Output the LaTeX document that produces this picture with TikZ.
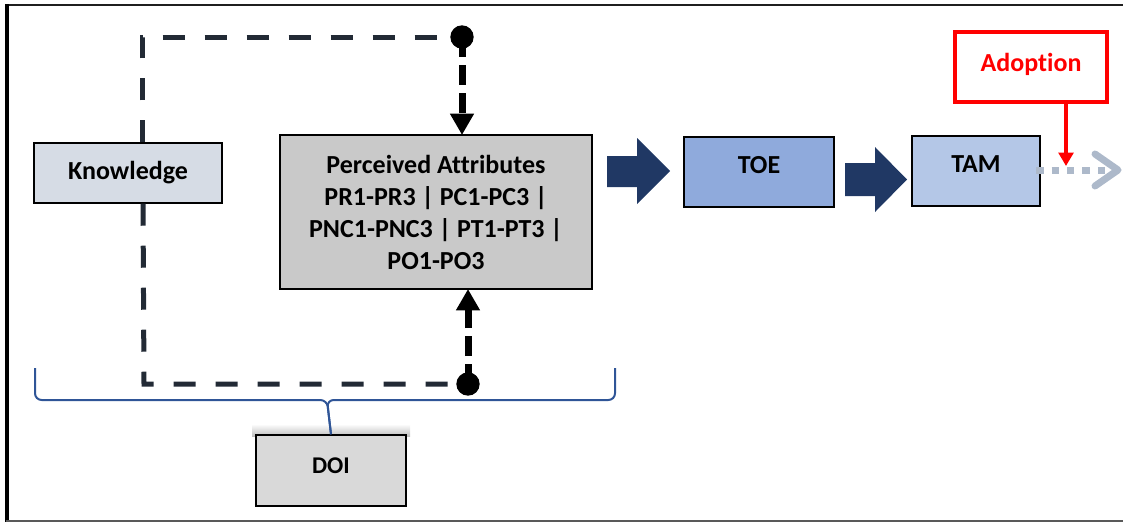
\documentclass[tikz,border=0pt]{standalone}
\usepackage{fontspec}
\setmainfont{Carlito}[Ligatures=NoCommon]
\usetikzlibrary{arrows.meta,calc}
\definecolor{knowfill}{HTML}{D6DCE5}
\definecolor{pafill}{HTML}{C9C9C9}
\definecolor{toefill}{HTML}{8FAADC}
\definecolor{tamfill}{HTML}{B4C7E7}
\definecolor{doifill}{HTML}{D9D9D9}
\definecolor{navy}{HTML}{203864}
\definecolor{loopcol}{HTML}{222A35}
\definecolor{bracecol}{HTML}{2F5597}
\definecolor{dotgray}{HTML}{ADB9CA}
\definecolor{adred}{HTML}{FF0000}
\tikzset{
  box/.style={draw=black, line width=1.1pt, inner sep=0pt, align=center,
    font=\fontsize{19.5}{24}\selectfont\bfseries},
  loopline/.style={draw=loopcol, line width=3.75pt, dash pattern=on 16.5pt off 15pt},
  thickdash/.style={draw=black, line width=5.25pt, dash pattern=on 15pt off 6pt,
    -{Triangle[width=17pt,length=16pt]}},
  dotnode/.style={circle, fill=black, inner sep=0pt, minimum size=17.5pt},
  blockarrow/.style={fill=navy},
}
\begin{document}
\begin{tikzpicture}[x=0.75pt,y=-0.75pt]
\useasboundingbox (0,0) rectangle (1123,522);
% frame
\draw[line width=2.2pt, draw=black!88] (5,5) -- (1123,5);
\draw[line width=3pt, draw=black] (7,4) -- (7,522);
\draw[line width=1.5pt, draw=black!65] (6,521) -- (1123,521);

% soft shadow above DOI
\shade[top color=white, bottom color=black!25] (252,424) rectangle (410,436);

% nodes
\node[box, fill=knowfill, minimum width=141pt, minimum height=45pt] (know) at (128,173) {Knowledge};
\node[box, fill=pafill, minimum width=234pt, minimum height=115.5pt] (pa) at (436,212)
  {Perceived Attributes\\PR1-PR3 | PC1-PC3 |\\PNC1-PNC3 | PT1-PT3 |\\PO1-PO3};
\node[box, fill=toefill, minimum width=112.5pt, minimum height=52.5pt, text depth=10.5pt] (toe) at (759,172) {TOE};
\node[box, fill=tamfill, minimum width=96pt, minimum height=52.5pt, text depth=10.5pt] (tam) at (976,171) {TAM};
\node[box, draw=adred, line width=2.5pt, text=adred, minimum width=114pt, minimum height=52.5pt, text depth=7.5pt] (adopt) at (1031,67) {Adoption};
\node[box, fill=doifill, font=\fontsize{18}{22}\selectfont\bfseries, minimum width=112.5pt, minimum height=53.25pt, text depth=7pt] (doi) at (331,470.5) {DOI};

% dot positions
\coordinate (dtopc) at (462,37);
\coordinate (dbotc) at (468,384);

% dashed loop
\coordinate (ktop) at ($(know.north)+(14,0)$);
\coordinate (kbot) at ($(know.south)+(15,0)$);
\draw[loopline] (ktop) -- (142,37) -- (dtopc);
\draw[loopline] (kbot) -- (144,384) -- (dbotc);

% thick dashed arrows
\draw[thickdash] (dtopc) -- (462,135);
\draw[thickdash] (dbotc) -- (468,289);

% dots on top
\node[dotnode] (dtop) at (dtopc) {};
\node[dotnode] (dbot) at (dbotc) {};

% brace
\draw[bracecol, line width=1.5pt, rounded corners=5pt] (35,368) -- (35,400) -- (327,400) -- (doi.north);
\draw[bracecol, line width=1.5pt, rounded corners=5pt] (doi.north) -- (327,400) -- (615,400) -- (615,368);

% block arrows
\fill[blockarrow] (607,156) -- (637,156) -- (637,138) -- (670,171) -- (637,204) -- (637,187) -- (607,187) -- cycle;
\fill[blockarrow] (845,163) -- (875,163) -- (875,147) -- (907,179.5) -- (875,212) -- (875,196) -- (845,196) -- cycle;

% dotted gray arrow
\coordinate (gend) at (1118,170);
\draw[dotgray, line width=5.25pt, dash pattern=on 5.6pt off 6pt] ([xshift=-3.5pt]tam.east |- 0,170) -- (1108,170);
\draw[dotgray, line width=5.25pt, line cap=round, line join=round] (1095,154) -- (gend) -- (1095,186);

% red arrow
\coordinate (adtip) at (1066,166);
\draw[adred, line width=2.5pt, -{Triangle[width=11pt,length=10pt]}] (adopt.south -| adtip) -- (adtip);
\end{tikzpicture}
\end{document}
